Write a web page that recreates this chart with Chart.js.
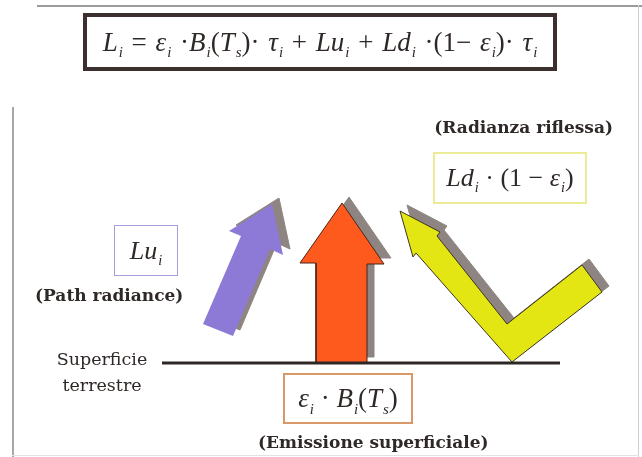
<!DOCTYPE html>
<html lang="it">
<head>
  <meta charset="UTF-8">
  <title>Radianza al sensore</title>
  <style>
    body {
      margin: 0;
      background: #fff;
      font-family: 'Liberation Serif', 'DejaVu Serif', serif;
      color: #2e2826;
    }
    #wrap {
      position: relative;
      width: 642px;
      height: 457px;
      overflow: hidden;
    }
    #diagram {
      position: absolute;
      left: 0;
      top: 0;
    }
    .rule {
      position: absolute;
      background: #9c9c9c;
    }
    .box {
      position: absolute;
      box-sizing: border-box;
      display: flex;
      align-items: center;
      justify-content: center;
      white-space: nowrap;
      font-size: 26px;
      line-height: 1;
    }
    .box i, .box sub { font-style: italic; }
    sub {
      font-size: 55%;
      vertical-align: -0.45em;
      line-height: 0;
      margin-left: 1px;
    }
    .label {
      position: absolute;
      white-space: nowrap;
      font-family: 'DejaVu Serif', serif;
      font-size: 17px;
      line-height: 1;
    }
    .bold { font-weight: bold; }
  </style>
  <script src="https://cdn.jsdelivr.net/npm/chart.js"></script>
</head>
<body>
  <div id="wrap">
    <!-- frame -->
    <div class="rule" style="left:37px; top:5px; width:605px; height:2px;"></div>
    <div class="rule" style="left:638px; top:5px; width:1px; height:452px; background:#cfcfcf;"></div>
    <div class="rule" style="left:12px; top:107px; width:2px; height:350px; background:#a8a8a8;"></div>
    <div class="rule" style="left:12px; top:455px; width:627px; height:1px; background:#e2e2e2;"></div>

    <canvas id="diagram" width="642" height="457"></canvas>

    <div class="box" style="left:83px; top:13px; width:474px; height:58px; border:4px solid #3b302d; font-size:27px; word-spacing:2px;">
      <span><i>L</i><sub>i</sub> = <i>ε</i><sub>i</sub> ·<i>B</i><sub>i</sub>(<i>T</i><sub>s</sub>)· <i>τ</i><sub>i</sub> + <i>Lu</i><sub>i</sub> + <i>Ld</i><sub>i</sub> ·(1− <i>ε</i><sub>i</sub>)· <i>τ</i><sub>i</sub></span>
    </div>

    <div class="label bold" style="right:29px; top:119px;">(Radianza riflessa)</div>
    <div class="box" style="left:433px; top:152px; width:154px; height:52px; border:2px solid #ecec98;">
      <span><i>Ld</i><sub>i</sub> · (1 − <i>ε</i><sub>i</sub>)</span>
    </div>

    <div class="box" style="left:114px; top:225px; width:64px; height:51px; border:1px solid #a79dda;">
      <span><i>Lu</i><sub>i</sub></span>
    </div>
    <div class="label bold" style="left:35px; top:287px;">(Path radiance)</div>

    <div class="label" style="left:47px; top:350px; width:110px; text-align:center; line-height:26px; margin-top:-4px; font-size:17.5px;">Superficie<br>terrestre</div>

    <div class="box" style="left:283px; top:373px; width:130px; height:51px; border:2px solid #d99868; font-size:27px;">
      <span><i>ε</i><sub>i</sub> · <i>B</i><sub>i</sub>(<i>T</i><sub>s</sub>)</span>
    </div>
    <div class="label bold" style="left:258px; top:434px;">(Emissione superficiale)</div>
  </div>

  <script>
    // polygon vertices in picture coordinates (x to the right, y downward)
    const groundLine = [[162, 363], [560, 363]];
    const pathRadianceArrow = [[203, 324], [233, 336], [270, 249], [283, 255], [272, 204], [229, 231], [241, 236]];
    const emissionArrow = [[316, 363], [367, 363], [367, 264], [384, 264], [342, 203], [300, 263], [316, 263]];
    const reflectedArrow = [[400, 211], [440, 232], [437, 236], [507, 324], [582, 265], [602, 292], [512, 362], [416, 253], [413, 257]];

    const shadowColor = '#8e8582';
    const shadowShift = [7, -6];

    function ring(points, dx, dy) {
      const pts = points.map(([x, y]) => ({ x: x + dx, y: y + dy }));
      pts.push(pts[0]);
      return pts;
    }

    function polygon(points, fillColor, strokeColor, order, dx = 0, dy = 0) {
      return {
        data: ring(points, dx, dy),
        showLine: true,
        fill: 'shape',
        backgroundColor: fillColor,
        borderColor: strokeColor,
        borderWidth: 1,
        pointRadius: 0,
        order: order
      };
    }

    const datasets = [
      polygon(pathRadianceArrow, shadowColor, shadowColor, 3, shadowShift[0], shadowShift[1]),
      polygon(emissionArrow, shadowColor, shadowColor, 3, shadowShift[0], shadowShift[1]),
      polygon(reflectedArrow, shadowColor, shadowColor, 3, shadowShift[0], shadowShift[1]),
      polygon(pathRadianceArrow, '#8d7ad6', 'rgba(0,0,0,0)', 2),
      polygon(emissionArrow, '#ff5a1e', '#4a2418', 2),
      polygon(reflectedArrow, '#e4e614', '#3d3520', 2),
      {
        data: groundLine.map(([x, y]) => ({ x, y })),
        showLine: true,
        fill: false,
        borderColor: '#2d2725',
        borderWidth: 3,
        pointRadius: 0,
        order: 1
      }
    ];

    new Chart(document.getElementById('diagram'), {
      type: 'scatter',
      data: { datasets: datasets },
      options: {
        responsive: false,
        animation: false,
        layout: { padding: 0 },
        plugins: {
          legend: { display: false },
          tooltip: { enabled: false }
        },
        elements: { line: { tension: 0 } },
        scales: {
          x: { type: 'linear', display: false, min: 0, max: 642 },
          y: { type: 'linear', display: false, min: 0, max: 457, reverse: true }
        }
      }
    });
  </script>
</body>
</html>
